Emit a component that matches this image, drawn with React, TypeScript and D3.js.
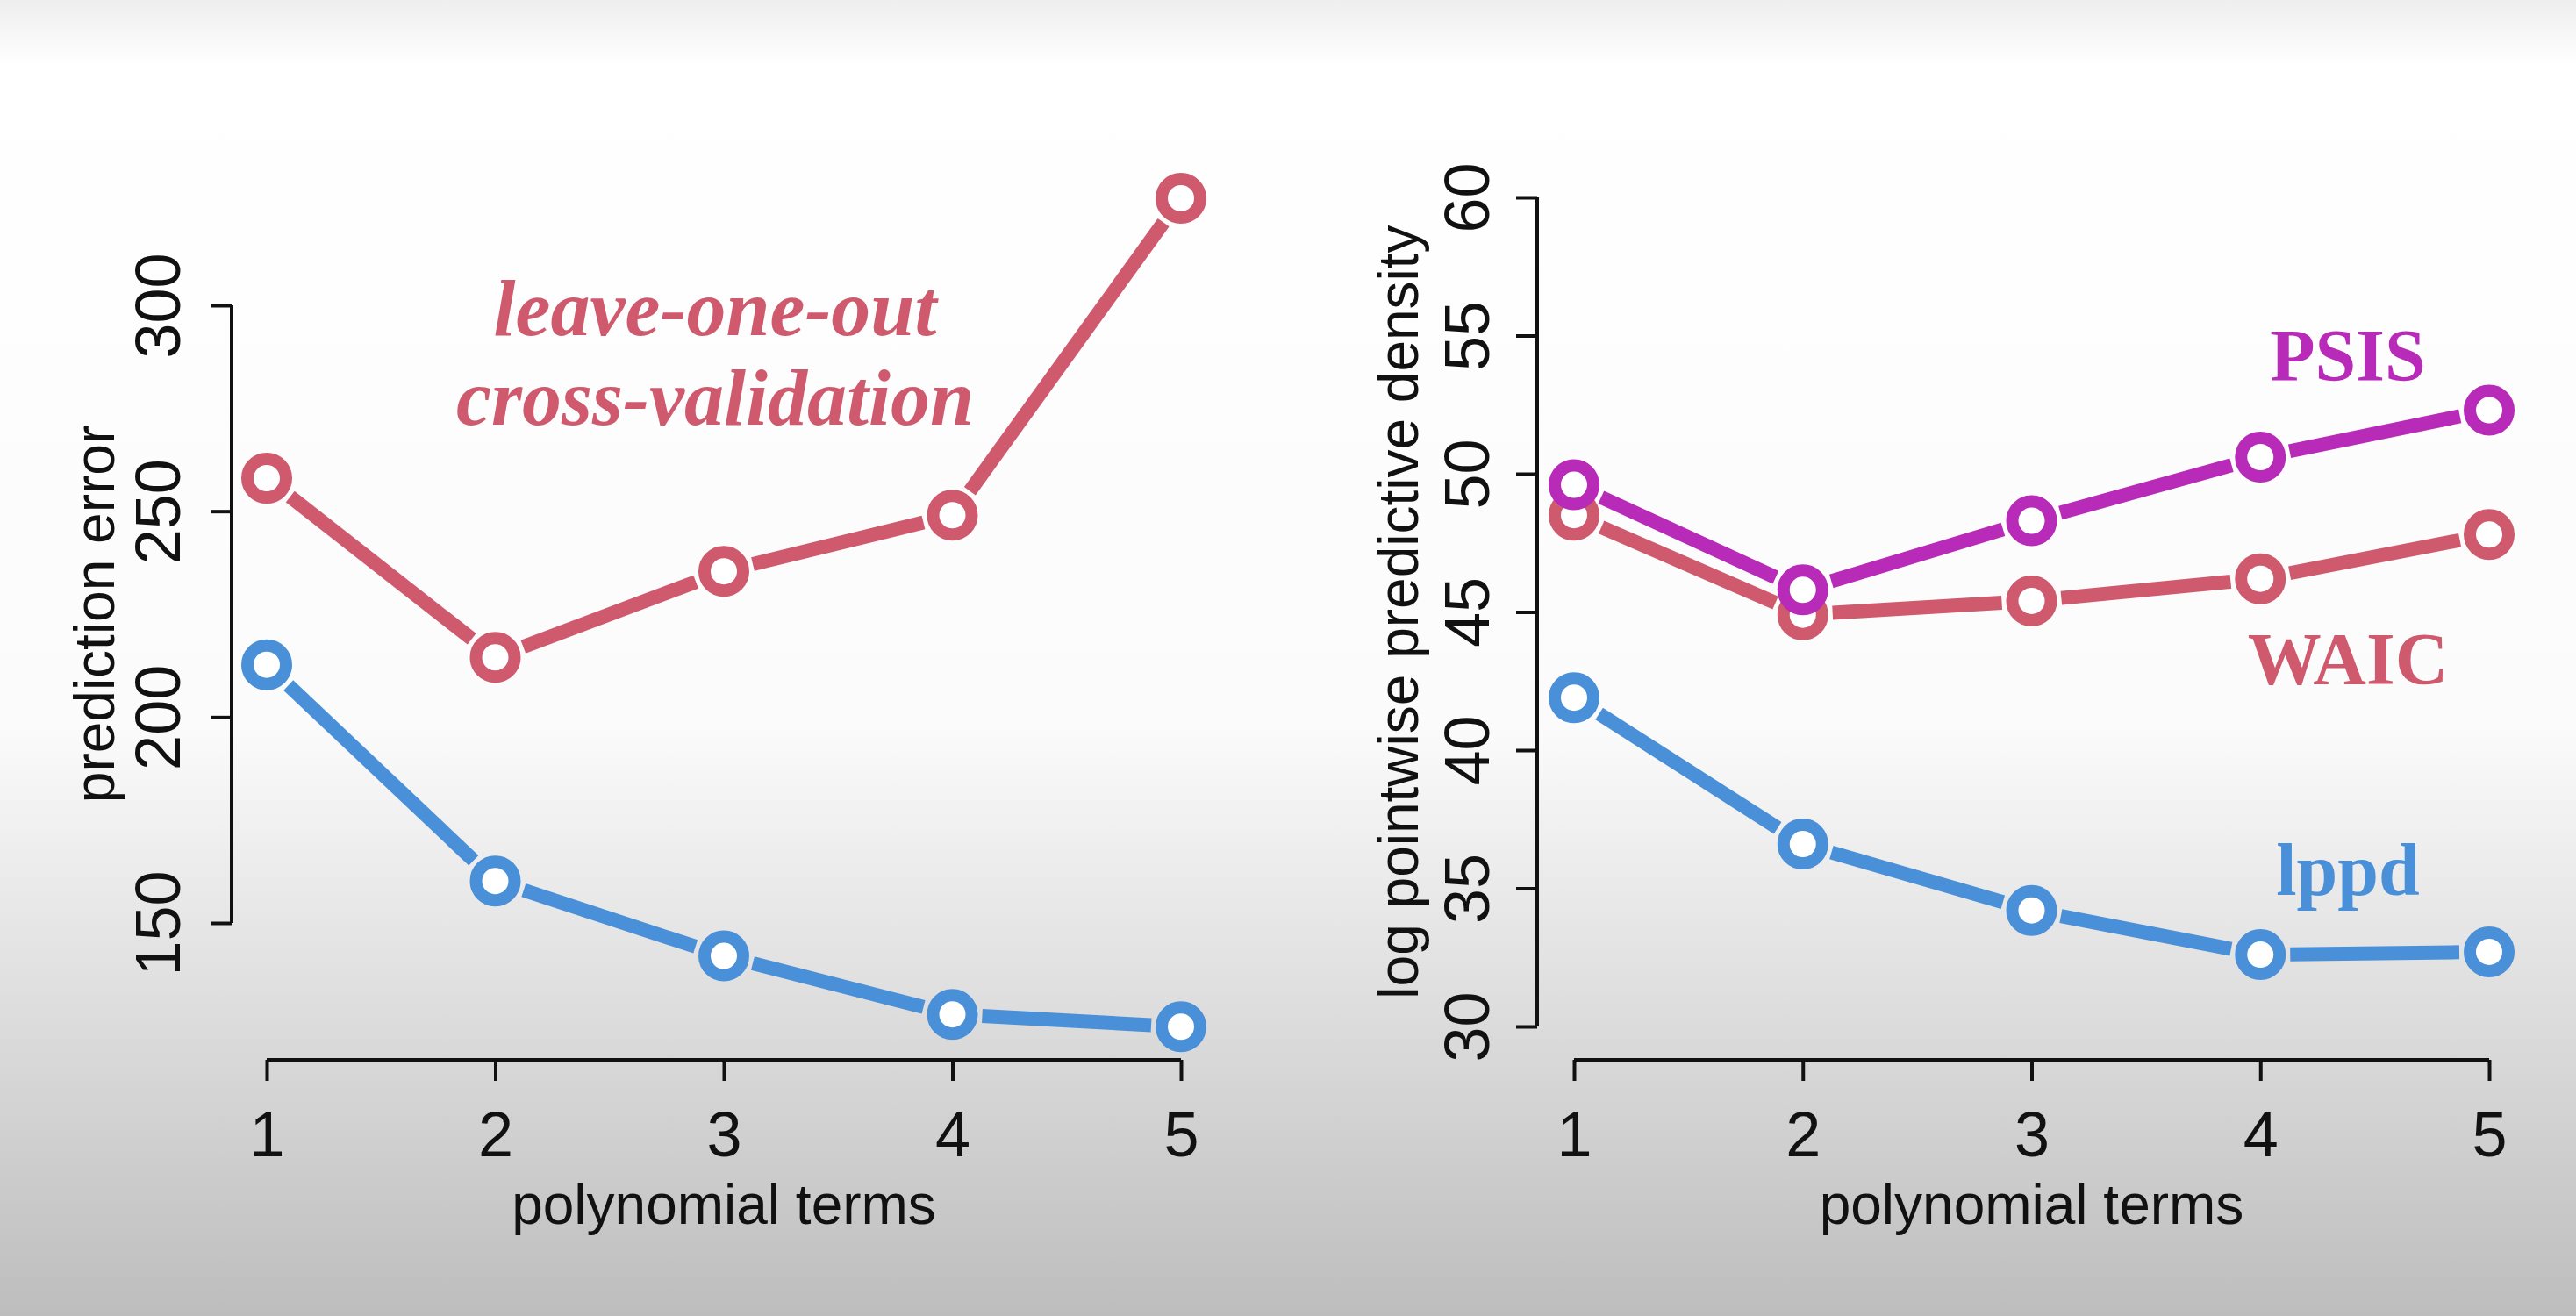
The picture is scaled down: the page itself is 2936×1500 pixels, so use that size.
import React, { useRef, useEffect } from "react";
import * as d3 from "d3";

const terms = [1, 2, 3, 4, 5];
const looValues = [258, 214.5, 235.4, 249, 326];
const lppdErrValues = [212.7, 160.2, 142, 127.8, 124.8];
const leftTicks = [150, 200, 250, 300];

const psisValues = [49.6, 45.8, 48.3, 50.6, 52.3];
const waicValues = [48.5, 44.9, 45.4, 46.2, 47.8];
const lppdValues = [41.9, 36.6, 34.2, 32.6, 32.7];
const rightTicks = [30, 35, 40, 45, 50, 55, 60];

const RED = "#cf5a6d";
const BLUE = "#4a90d9";
const PURPLE = "#b82ab8";
const SANS = "'Liberation Sans', Arial, sans-serif";
const SERIF = "'Liberation Serif', 'DejaVu Serif', serif";

const App: React.FC = () => {
  const ref = useRef<SVGSVGElement | null>(null);

  useEffect(() => {
    if (!ref.current) return;
    const svg = d3.select(ref.current);
    svg.selectAll("*").remove();

    const defs = svg.append("defs");
    const grad = defs
      .append("linearGradient")
      .attr("id", "bg")
      .attr("x1", 0).attr("y1", 0).attr("x2", 0).attr("y2", 1);
    grad.append("stop").attr("offset", "0%").attr("stop-color", "#eeeeee");
    grad.append("stop").attr("offset", "5%").attr("stop-color", "#ffffff");
    grad.append("stop").attr("offset", "55%").attr("stop-color", "#fbfbfb");
    grad.append("stop").attr("offset", "100%").attr("stop-color", "#bdbdbd");
    svg.append("rect").attr("width", 2936).attr("height", 1500).attr("fill", "url(#bg)");

    const drawSeries = (
      g: d3.Selection<SVGGElement, unknown, null, undefined>,
      x: d3.ScaleLinear<number, number>,
      y: d3.ScaleLinear<number, number>,
      vals: number[],
      color: string
    ) => {
      const pts = vals.map((v, i) => [x(terms[i]), y(v)] as [number, number]);
      const gap = 34;
      for (let i = 0; i < pts.length - 1; i++) {
        const [x0, y0] = pts[i];
        const [x1, y1] = pts[i + 1];
        const len = Math.hypot(x1 - x0, y1 - y0);
        const ux = (x1 - x0) / len;
        const uy = (y1 - y0) / len;
        g.append("line")
          .attr("x1", x0 + ux * gap).attr("y1", y0 + uy * gap)
          .attr("x2", x1 - ux * gap).attr("y2", y1 - uy * gap)
          .attr("stroke", color).attr("stroke-width", 16);
      }
      g.selectAll(null)
        .data(pts)
        .enter()
        .append("circle")
        .attr("cx", (d) => d[0]).attr("cy", (d) => d[1])
        .attr("r", 22)
        .attr("fill", "white")
        .attr("stroke", color)
        .attr("stroke-width", 14);
    };

    const drawAxes = (
      x: d3.ScaleLinear<number, number>,
      y: d3.ScaleLinear<number, number>,
      ticks: number[],
      axisX: number,
      tickLabelX: number,
      yLabelX: number,
      yLabel: string
    ) => {
      const g = svg.append("g");
      const xAxis = g.append("g")
        .attr("transform", "translate(0,1208)")
        .call(d3.axisBottom(x).tickValues(terms).tickSize(24).tickSizeOuter(0).tickFormat(d3.format("d")));
      xAxis.select(".domain").attr("stroke", "#111").attr("stroke-width", 4).attr("d", `M${x(1)},0H${x(5)}`);
      xAxis.selectAll(".tick line").attr("stroke", "#111").attr("stroke-width", 4);
      xAxis.selectAll(".tick text")
        .attr("y", 110).attr("dy", 0)
        .attr("font-family", SANS).attr("font-size", 72).attr("fill", "#111");

      const yAxis = g.append("g")
        .attr("transform", `translate(${axisX},0)`)
        .call(d3.axisLeft(y).tickValues(ticks).tickSize(24).tickSizeOuter(0).tickFormat(d3.format("d")));
      yAxis.select(".domain").attr("stroke", "#111").attr("stroke-width", 4)
        .attr("d", `M0,${y(ticks[0])}V${y(ticks[ticks.length - 1])}`);
      yAxis.selectAll(".tick line").attr("stroke", "#111").attr("stroke-width", 4);
      yAxis.selectAll(".tick text")
        .attr("x", 0).attr("dy", 0)
        .attr("transform", `translate(${tickLabelX - axisX},0) rotate(-90)`)
        .attr("text-anchor", "middle")
        .attr("dominant-baseline", "central")
        .attr("font-family", SANS).attr("font-size", 72).attr("fill", "#111");

      g.append("text")
        .attr("x", (x(1) + x(5)) / 2).attr("y", 1395)
        .attr("text-anchor", "middle")
        .attr("font-family", SANS).attr("font-size", 64).attr("fill", "#111")
        .text("polynomial terms");
      g.append("text")
        .attr("transform", `translate(${yLabelX},${(y(ticks[0]) + y(ticks[ticks.length - 1])) / 2}) rotate(-90)`)
        .attr("text-anchor", "middle")
        .attr("dominant-baseline", "central")
        .attr("font-family", SANS).attr("font-size", 64).attr("fill", "#111")
        .text(yLabel);
    };

    // left panel
    const xL = d3.scaleLinear().domain([1, 5]).range([304, 1346]);
    const yL = d3.scaleLinear().domain([150, 300]).range([1052, 348]);
    drawAxes(xL, yL, leftTicks, 264, 180, 108, "prediction error");
    const gL = svg.append("g");
    drawSeries(gL, xL, yL, looValues, RED);
    drawSeries(gL, xL, yL, lppdErrValues, BLUE);
    const loo = svg.append("text")
      .attr("text-anchor", "middle")
      .attr("font-family", SERIF).attr("font-style", "italic").attr("font-weight", "bold")
      .attr("font-size", 90).attr("fill", RED);
    loo.append("tspan").attr("x", 815).attr("y", 382).text("leave-one-out");
    loo.append("tspan").attr("x", 815).attr("y", 484).text("cross-validation");

    // right panel
    const xR = d3.scaleLinear().domain([1, 5]).range([1794, 2837]);
    const yR = d3.scaleLinear().domain([30, 60]).range([1170, 225]);
    drawAxes(xR, yR, rightTicks, 1752, 1672, 1594, "log pointwise predictive density");
    const gR = svg.append("g");
    drawSeries(gR, xR, yR, waicValues, RED);
    drawSeries(gR, xR, yR, psisValues, PURPLE);
    drawSeries(gR, xR, yR, lppdValues, BLUE);
    const labels: [string, number, string][] = [
      ["PSIS", 434, PURPLE],
      ["WAIC", 780, RED],
      ["lppd", 1020, BLUE],
    ];
    labels.forEach(([t, yy, c]) => {
      svg.append("text")
        .attr("x", 2676).attr("y", yy)
        .attr("text-anchor", "middle")
        .attr("font-family", SERIF).attr("font-weight", "bold")
        .attr("font-size", 84).attr("fill", c)
        .text(t);
    });
  }, []);

  return (
    <svg
      ref={ref}
      width={2936}
      height={1500}
      style={{ position: "absolute", left: 0, top: 0 }}
    />
  );
};

export default App;
